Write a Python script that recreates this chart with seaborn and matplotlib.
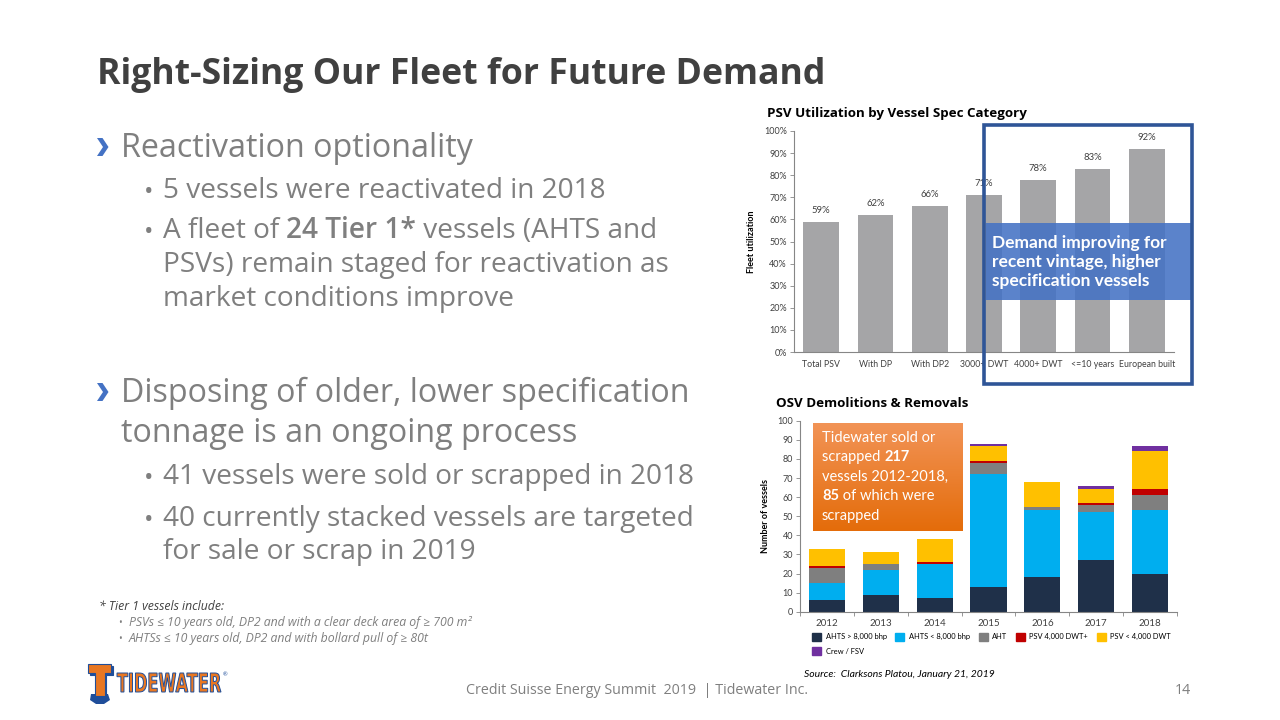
import numpy as np
import pandas as pd
import matplotlib
matplotlib.use("Agg")
import matplotlib.pyplot as plt
import seaborn as sns
from matplotlib.patches import Rectangle, Polygon, PathPatch
from matplotlib.textpath import TextPath
from matplotlib.font_manager import FontProperties
from matplotlib.transforms import Affine2D, IdentityTransform
from matplotlib.colors import LinearSegmentedColormap

# ---------------- data ----------------
psv_categories = ["Total PSV", "With DP", "With DP2", "3000+ DWT", "4000+ DWT", "<=10 years", "European built"]
psv_utilization = [59, 62, 66, 71, 78, 83, 92]

years = ["2012", "2013", "2014", "2015", "2016", "2017", "2018"]
ahts_large = [6, 9, 7, 13, 18, 27, 20]
ahts_small = [9, 13, 18, 59, 35, 25, 33]
aht = [8, 3, 0, 6, 2, 4, 8]
psv_large = [1, 0, 1, 1, 0, 1, 3]
psv_small = [9, 6, 12, 8, 13, 7, 20]
crew_fsv = [0, 0, 0, 1, 0, 2, 3]

series_names = ["AHTS > 8,000 bhp", "AHTS < 8,000 bhp", "AHT", "PSV 4,000 DWT+", "PSV < 4,000 DWT", "Crew / FSV"]
series_values = [ahts_large, ahts_small, aht, psv_large, psv_small, crew_fsv]
series_colors = ["#1F3049", "#00AEEF", "#7F7F7F", "#C00000", "#FFC000", "#7030A0"]

# ---------------- setup ----------------
sns.set_theme(style="white")
plt.rcParams["font.family"] = ["Lato", "DejaVu Sans"]
OPEN = ["Open Sans", "DejaVu Sans"]

W, H = 1280, 720
fig = plt.figure(figsize=(12.8, 7.2), dpi=100)
fig.patch.set_facecolor("white")
renderer = fig.canvas.get_renderer()


def fx(px):
    return px / W


def fy(py):
    return 1 - py / H


def rich(x, y, parts, size, color, family=None, va="baseline"):
    cur = x
    for txt, weight in parts:
        kw = {} if family is None else {"family": family}
        t = fig.text(fx(cur), fy(y), txt, fontsize=size, color=color, weight=weight,
                     va=va, ha="left", **kw)
        bb = t.get_window_extent(renderer)
        cur += bb.width


GRAY = "#7F7F7F"
DARK = "#404040"

# ---------------- title ----------------
fig.text(fx(97), fy(84), "Right-Sizing Our Fleet for Future Demand", fontsize=25.7,
         weight="bold", color=DARK, ha="left", va="baseline", family=OPEN)

# ---------------- left bullets ----------------
CHEV = "#4472C4"
BODY = 23.2
SUB = 20.2


def chevron(yc):
    pts = [(97, yc - 9), (102.5, yc - 9), (108.5, yc), (102.5, yc + 9), (97, yc + 9), (103, yc)]
    fig.add_artist(Polygon([(fx(a), fy(b)) for a, b in pts], closed=True, transform=fig.transFigure,
                           facecolor=CHEV, edgecolor="none"))


def bullet(y):
    fig.text(fx(144), fy(y + 1), "\u2022", fontsize=18, color=GRAY, ha="left", va="baseline", family=OPEN)


chevron(147)
fig.text(fx(121), fy(157), "Reactivation optionality", fontsize=BODY, color=GRAY, ha="left",
         va="baseline", family=OPEN)
sub_lines = [
    (198, True, [("5 vessels were reactivated in 2018", "normal")]),
    (238, True, [("A fleet of ", "normal"), ("24 Tier 1*", 600), (" vessels (AHTS and", "normal")]),
    (272, False, [("PSVs) remain staged for reactivation as", "normal")]),
    (306, False, [("market conditions improve", "normal")]),
]
for y, b, parts in sub_lines:
    if b:
        bullet(y)
    rich(163, y, parts, SUB, GRAY, family=OPEN)

chevron(392)
fig.text(fx(121), fy(402), "Disposing of older, lower specification", fontsize=BODY, color=GRAY,
         ha="left", va="baseline", family=OPEN)
fig.text(fx(121), fy(442), "tonnage is an ongoing process", fontsize=BODY, color=GRAY,
         ha="left", va="baseline", family=OPEN)
sub2 = [
    (484, True, "41 vessels were sold or scrapped in 2018"),
    (526, True, "40 currently stacked vessels are targeted"),
    (559, False, "for sale or scrap in 2019"),
]
for y, b, txt in sub2:
    if b:
        bullet(y)
    fig.text(fx(163), fy(y), txt, fontsize=SUB, color=GRAY, ha="left", va="baseline", family=OPEN)

# footnote
FN = 8.8
fig.text(fx(99), fy(610), "* Tier 1 vessels include:", fontsize=FN, style="italic", color=DARK,
         ha="left", va="baseline", family=OPEN)
for y, txt in [(626, "PSVs \u2264 10 years old, DP2 and with a clear deck area of \u2265 700 m\u00b2"),
               (642, "AHTSs \u2264 10 years old, DP2 and with bollard pull of \u2265 80t")]:
    fig.text(fx(118), fy(y), "\u2022", fontsize=7, color=GRAY, ha="left", va="baseline", family=OPEN)
    fig.text(fx(129), fy(y), txt, fontsize=FN, style="italic", color=GRAY, ha="left",
             va="baseline", family=OPEN)

# ---------------- top chart ----------------
fig.text(fx(767), fy(117), "PSV Utilization by Vessel Spec Category", fontsize=9.6, weight="bold",
         color="black", ha="left", va="baseline", family=OPEN)
ax1 = fig.add_axes([fx(794), fy(352), (1174 - 794) / W, (352 - 131) / H])
df1 = pd.DataFrame({"category": psv_categories, "utilization": psv_utilization})
sns.barplot(data=df1, x="category", y="utilization", color="#A5A5A7", saturation=1,
            width=0.66, ax=ax1, errorbar=None, linewidth=0)
ax1.set_ylim(0, 100)
ax1.set_yticks(np.arange(0, 101, 10))
ax1.set_yticklabels([f"{v}%" for v in range(0, 101, 10)])
ax1.set_xlabel("")
ax1.set_ylabel("Fleet utilization", fontsize=6.5, weight="bold", color="black", labelpad=6)
ax1.bar_label(ax1.containers[0], labels=[f"{v}%" for v in psv_utilization], padding=5,
              fontsize=6.8, color=DARK)
for s in ["top", "right"]:
    ax1.spines[s].set_visible(False)
for s in ["left", "bottom"]:
    ax1.spines[s].set_color("#868686")
    ax1.spines[s].set_linewidth(0.8)
ax1.tick_params(axis="y", labelsize=6.5, labelcolor=DARK, color="#868686", length=3, width=0.6,
                left=True, pad=2)
ax1.tick_params(axis="x", labelsize=6.3, labelcolor=DARK, length=0, pad=6)

# highlight box
fig.add_artist(Rectangle((fx(984), fy(384)), (1192 - 984) / W, (384 - 125) / H, transform=fig.transFigure,
                         fill=False, edgecolor="#2F5597", lw=2.6, zorder=10))
fig.add_artist(Rectangle((fx(986), fy(300)), (1191 - 986) / W, (300 - 223) / H, transform=fig.transFigure,
                         facecolor="#4472C4", alpha=0.88, edgecolor="none", zorder=9))
fig.text(fx(992), fy(262), "Demand improving for\nrecent vintage, higher\nspecification vessels",
         fontsize=12.5, weight="bold", color="white", ha="left", va="center", linespacing=1.25, zorder=11)

# ---------------- bottom chart ----------------
fig.text(fx(776), fy(407), "OSV Demolitions & Removals", fontsize=9.6, weight="bold",
         color="black", ha="left", va="baseline", family=OPEN)
ax2 = fig.add_axes([fx(800), fy(611.7), (1177 - 800) / W, (611.7 - 420.7) / H])
bottom = np.zeros(len(years))
for name, vals, col in zip(series_names, series_values, series_colors):
    sns.barplot(x=years, y=vals, color=col, saturation=1, width=0.67, bottom=bottom.copy(),
                ax=ax2, errorbar=None, linewidth=0)
    bottom = bottom + np.array(vals)
ax2.set_ylim(0, 100)
ax2.set_yticks(np.arange(0, 101, 10))
ax2.set_xlim(-0.5, len(years) - 0.5)
ax2.set_xticks(np.arange(-0.5, len(years), 1.0), minor=True)
ax2.set_ylabel("Number of vessels", fontsize=6.5, weight="bold", color="black", labelpad=5)
for s in ["top", "right"]:
    ax2.spines[s].set_visible(False)
for s in ["left", "bottom"]:
    ax2.spines[s].set_color("#868686")
    ax2.spines[s].set_linewidth(0.8)
ax2.tick_params(axis="y", labelsize=6.5, labelcolor=DARK, color="#868686", length=3, width=0.6,
                left=True, pad=2)
ax2.tick_params(axis="x", which="major", labelsize=7, labelcolor=DARK, length=0, pad=5)
ax2.tick_params(axis="x", which="minor", length=3, width=0.6, color="#868686", bottom=True)

# legend (column-major order so Crew / FSV lands on the second row)
handles = [Rectangle((0, 0), 1, 1, color=c) for c in series_colors]
order = [0, 5, 1, 2, 3, 4]
leg = fig.legend([handles[i] for i in order], [series_names[i] for i in order], ncol=5,
                 loc="upper left", bbox_to_anchor=(fx(812), fy(633)), frameon=False,
                 fontsize=5.4, handlelength=1.2, handleheight=1.2, handletextpad=0.6,
                 columnspacing=1.15, labelspacing=0.9, borderaxespad=0, borderpad=0)
for t in leg.get_texts():
    t.set_color("black")

fig.text(fx(804), fy(677), "Source:  Clarksons Platou, January 21, 2019", fontsize=7.5,
         style="italic", color="black", ha="left", va="baseline")

# orange call-out box with gradient
axo = fig.add_axes([fx(813), fy(531), (963 - 813) / W, (531 - 423) / H])
grad = np.linspace(0, 1, 100).reshape(-1, 1)
ocmap = LinearSegmentedColormap.from_list("org", ["#F29457", "#E46C0A"])
axo.imshow(grad, aspect="auto", cmap=ocmap, extent=(0, 1, 0, 1), origin="upper")
axo.set_axis_off()
olines = [
    (442, [("Tidewater sold or", "normal")]),
    (461, [("scrapped ", "normal"), ("217", "bold")]),
    (481, [("vessels 2012-2018,", "normal")]),
    (500, [("85", "bold"), (" of which were", "normal")]),
    (520, [("scrapped", "normal")]),
]
for y, parts in olines:
    rich(822, y, parts, 10.5, "white")

# ---------------- footer ----------------
fig.text(fx(637), fy(694), "Credit Suisse Energy Summit  2019  | Tidewater Inc.", fontsize=10.3,
         color=GRAY, ha="center", va="baseline", family=OPEN)
fig.text(fx(1183), fy(694), "14", fontsize=10.3, color=GRAY, ha="center", va="baseline", family=OPEN)

# logo
ORANGE = "#E87722"
BLUE = "#1F4E9A"


def poly_px(pts, **kw):
    fig.add_artist(Polygon([(fx(a), fy(b)) for a, b in pts], closed=True, transform=fig.transFigure, **kw))


t_shape = [(88, 664), (111, 664), (111, 673), (104.5, 673), (104.5, 696), (94.5, 696), (94.5, 673), (88, 673)]
poly_px([(a + 1.8, b + 1.8) for a, b in t_shape], facecolor=BLUE, edgecolor=BLUE, lw=0.8)
poly_px([(91, 694), (108, 694), (110, 700), (104, 704), (96, 704), (90, 700)], facecolor=BLUE, edgecolor="none")
poly_px(t_shape, facecolor=ORANGE, edgecolor=BLUE, lw=0.8)

fp = FontProperties(family=["Liberation Sans Narrow", "DejaVu Sans"], weight="bold")
tp = TextPath((0, 0), "TIDEWATER", size=100, prop=fp)
bb = tp.get_extents()
x0, x1, ytop, ybot = 117, 221, 673, 692
tr = (Affine2D().translate(-bb.x0, -bb.y0)
      .scale((x1 - x0) / bb.width, (ybot - ytop) / bb.height)
      .translate(x0, H - ybot))
fig.add_artist(PathPatch(tr.transform_path(tp), transform=IdentityTransform(),
                         facecolor=ORANGE, edgecolor=BLUE, lw=0.7))
fig.text(fx(223), fy(676), "\u00ae", fontsize=4, color=BLUE, ha="left", va="baseline")

fig.savefig("out.png", dpi=100, facecolor="white")
